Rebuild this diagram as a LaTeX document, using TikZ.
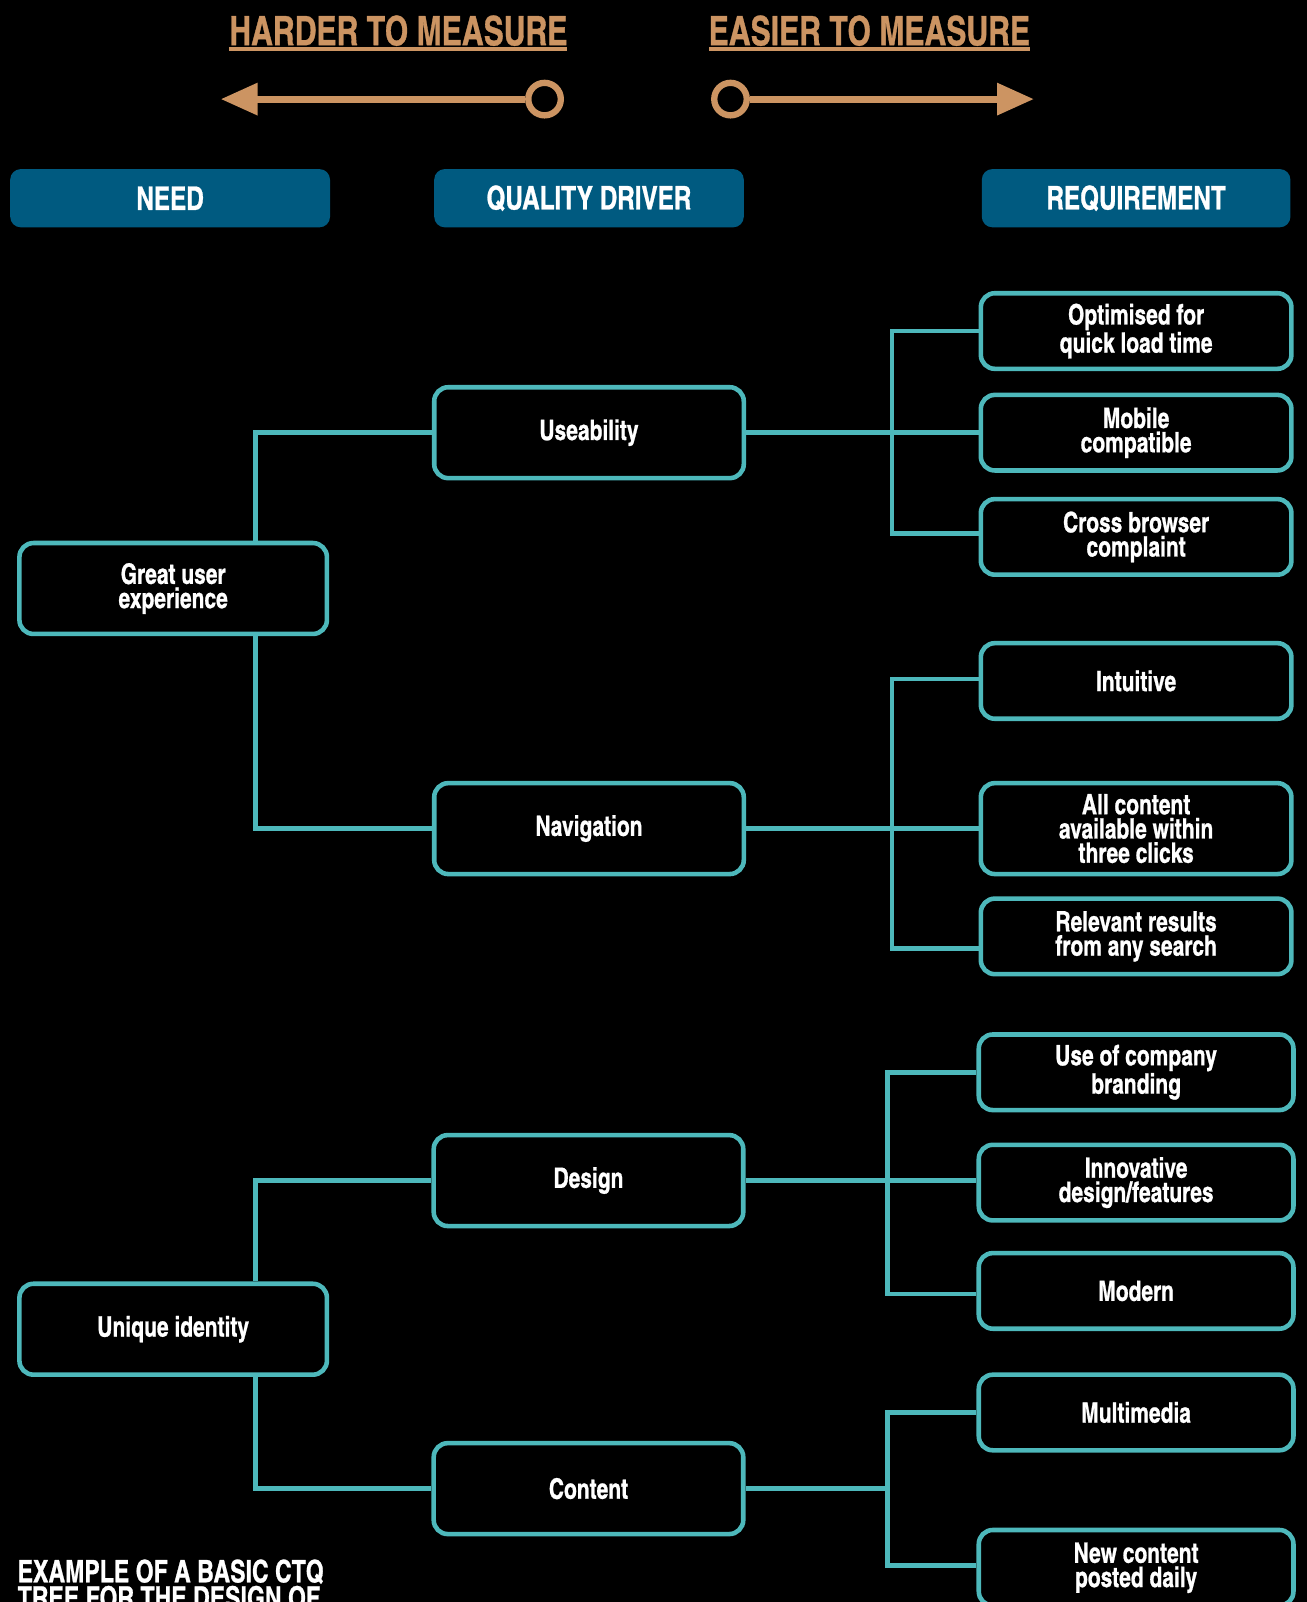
\documentclass[tikz,border=0pt]{standalone}
\usepackage{fontspec}
\setmainfont{TeX Gyre Heros Cn}[FakeStretch=0.91, BoldFeatures={FakeBold=0.8}]
\usetikzlibrary{arrows.meta}
\definecolor{tealc}{HTML}{4DB8BB}
\definecolor{hdrc}{HTML}{005A80}
\definecolor{tanc}{HTML}{CC9462}
\newcommand{\pu}{0.020438cm}
\begin{document}
\begin{tikzpicture}[x=0.020438cm,y=-0.020438cm,
  box/.style={draw=tealc, line width=2.6pt, rounded corners=8pt, fill=black, text=white,
    font=\bfseries\fontsize{16}{13.8}\selectfont, align=center, inner sep=0pt},
  needbox/.style={box, minimum width=301*\pu, minimum height=89*\pu},
  drvbox/.style={box, minimum width=303*\pu, minimum height=89*\pu},
  reqbox/.style={box, minimum width=304*\pu, minimum height=74*\pu},
  hdr/.style={fill=hdrc, rounded corners=6pt, text=white, inner sep=0pt,
    font=\bfseries\fontsize{18.5}{20}\selectfont, minimum height=57*\pu},
  conn/.style={draw=tealc, line width=2.7pt},
  toplbl/.style={text=tanc, font=\bfseries\fontsize{23}{25}\selectfont, inner sep=0pt},
  ring/.style={circle, draw=tanc, line width=3.6pt, minimum size=18.5pt, inner sep=0pt},
  tanarrow/.style={draw=tanc, line width=4pt, -{Triangle[length=21pt,width=17.5pt]}}
]
\fill[black] (0,0) rectangle (1279,1568);
\clip (0,0) rectangle (1279,1568);

% top labels
\node[toplbl] (hard) at (390,30) {HARDER TO MEASURE};
\node[toplbl] (easy) at (851,30) {EASIER TO MEASURE};
\draw[tanc, line width=1.8pt] (224,48) -- (555,48);
\draw[tanc, line width=1.8pt] (694,48) -- (1008,48);

\node[ring] (lc) at (533,97) {};
\node[ring] (rc) at (715,97) {};
\coordinate (lt) at (216,97);
\coordinate (rt) at (1012,97);
\draw[tanarrow] (lc.west) -- (lt);
\draw[tanarrow] (rc.east) -- (rt);

% headers
\node[hdr, minimum width=313*\pu] (hneed) at (166.5,194) {NEED};
\node[hdr, minimum width=303*\pu] (hqd) at (576.5,194) {QUALITY DRIVER};
\node[hdr, minimum width=302*\pu] (hreq) at (1112,194) {REQUIREMENT};

% connectors first (under boxes)
\coordinate (bxA) at (250,0);
\coordinate (busA) at (873,0);
\coordinate (busB) at (873,0);
\coordinate (busC) at (869,0);
\coordinate (busD) at (869,0);

% needs
\node[needbox] (gue) at (169.5,576) {Great user\\experience};
\node[needbox] (ui) at (169.5,1301) {Unique identity};

% drivers
\node[drvbox] (use) at (576.5,423.5) {Useability};
\node[drvbox] (nav) at (576.5,811) {Navigation};
\node[drvbox] (des) at (576,1155.5) {Design};
\node[drvbox] (con) at (576,1457) {Content};

% requirements
\node[reqbox] (r1) at (1112,324) {Optimised for\\quick load time};
\node[reqbox] (r2) at (1112,423.5) {Mobile\\compatible};
\node[reqbox] (r3) at (1112,525.5) {Cross browser\\complaint};
\node[reqbox] (r4) at (1112,666.5) {Intuitive};
\node[reqbox, minimum height=89*\pu] (r5) at (1112,811) {All content\\available within\\three clicks};
\node[reqbox] (r6) at (1112,916.5) {Relevant results\\from any search};
\node[reqbox, minimum width=308*\pu] (r7) at (1112,1049.5) {Use of company\\branding};
\node[reqbox, minimum width=308*\pu] (r8) at (1112,1157.5) {Innovative\\design/features};
\node[reqbox, minimum width=308*\pu] (r9) at (1112,1263.5) {Modern};
\node[reqbox, minimum width=308*\pu] (r10) at (1112,1382.5) {Multimedia};
\node[reqbox, minimum width=308*\pu] (r11) at (1112,1534.5) {New content\\posted daily};

% bottom caption
\node[anchor=north west, text=white, align=left, inner sep=0pt,
  font=\bfseries\fontsize{17.6}{15}\selectfont] (cap) at (17,1526)
  {EXAMPLE OF A BASIC CTQ\\TREE FOR THE DESIGN OF};

% need -> driver connectors
\draw[conn] (bxA |- gue.north) |- (use.west);
\draw[conn] (bxA |- gue.south) |- (nav.west);
\draw[conn] (bxA |- ui.north) |- (des.west);
\draw[conn] (bxA |- ui.south) |- (con.west);

% driver -> requirement buses
\path (r3.west) ++(0,-3) coordinate (r3in);
\path (r4.west) ++(0,-2) coordinate (r4in);
\path (r6.west) ++(0,12) coordinate (r6in);
\path (r9.west) ++(0,3) coordinate (r9in);
\path (r11.west) ++(0,-2) coordinate (r11in);

\draw[conn] (use.east) -- (use.east -| r2.west);
\draw[conn] (r1.west) -| (busA |- r3in) -- (r3in);

\draw[conn] (nav.east) -- (nav.east -| r5.west);
\draw[conn] (r4in) -| (busB |- r6in) -- (r6in);

\draw[conn] (des.east) -- (des.east -| r8.west);
\draw[conn] (r7.west) -| (busC |- r9in) -- (r9in);

\draw[conn] (con.east) -- (con.east -| busD);
\draw[conn] (r10.west) -| (busD |- r11in) -- (r11in);
\end{tikzpicture}
\end{document}
